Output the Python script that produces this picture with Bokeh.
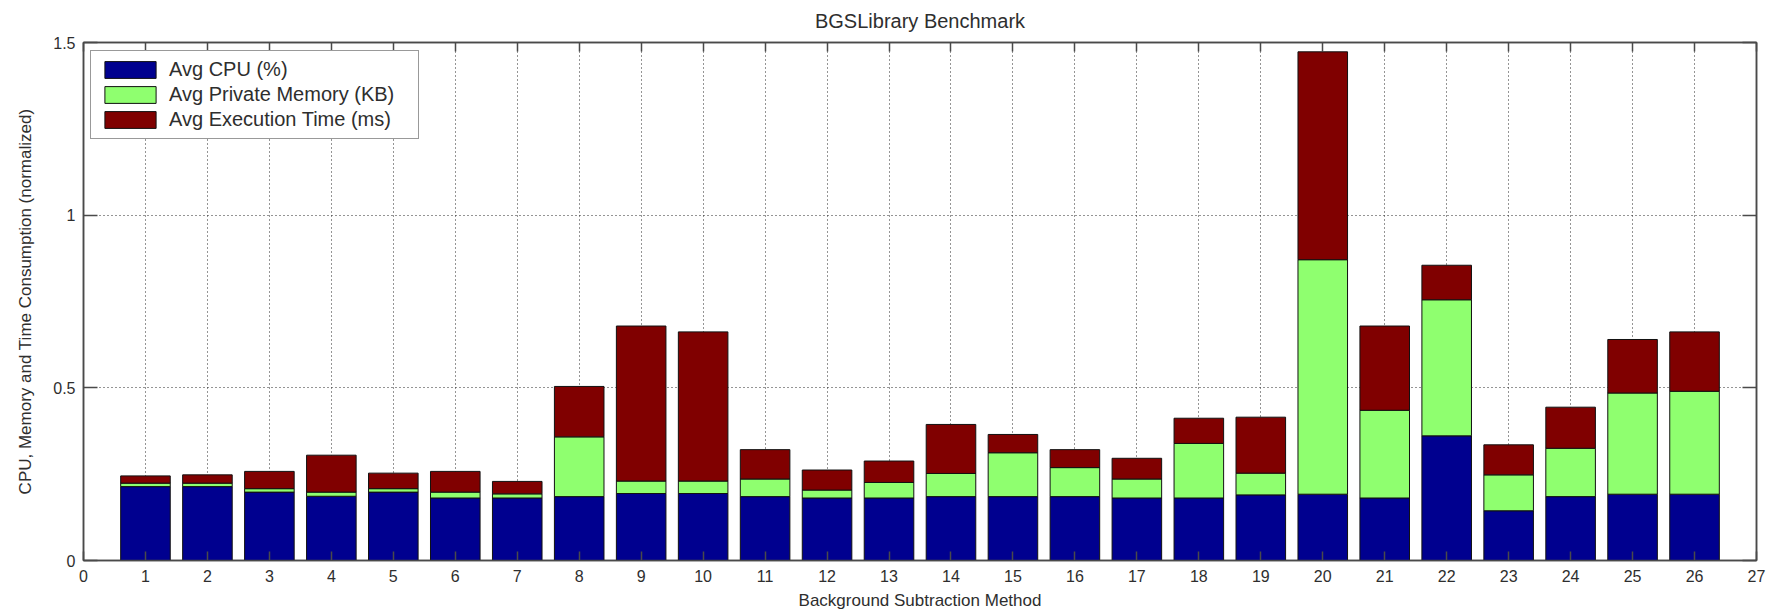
from bokeh.plotting import figure
from bokeh.models import (ColumnDataSource, Range1d, FixedTicker, LinearAxis, Legend,
                          LegendItem, CustomLabelingPolicy)
from bokeh.embed import file_html
from bokeh.resources import INLINE

# ---- data ----
methods = list(range(1, 27))
cpu = [0.214, 0.214, 0.198, 0.186, 0.198, 0.181, 0.181, 0.185, 0.194, 0.194,
       0.185, 0.181, 0.181, 0.185, 0.185, 0.185, 0.181, 0.181, 0.190, 0.192,
       0.181, 0.361, 0.144, 0.185, 0.192, 0.192]
memory = [0.010, 0.010, 0.010, 0.012, 0.010, 0.017, 0.012, 0.173, 0.036, 0.036,
          0.051, 0.023, 0.045, 0.067, 0.127, 0.084, 0.055, 0.158, 0.063, 0.679,
          0.254, 0.394, 0.104, 0.140, 0.293, 0.298]
exec_time = [0.021, 0.024, 0.050, 0.107, 0.045, 0.060, 0.036, 0.146, 0.449, 0.432,
             0.085, 0.058, 0.062, 0.142, 0.053, 0.052, 0.060, 0.073, 0.162, 0.602,
             0.244, 0.100, 0.087, 0.119, 0.155, 0.172]
series_names = ["Avg CPU (%)", "Avg Private Memory (KB)", "Avg Execution Time (ms)"]
series_colors = ["#00008F", "#8FFF6F", "#800000"]
x_ticks = list(range(0, 28))
y_ticks = [0, 0.5, 1, 1.5]
y_tick_labels = ["0", "0.5", "1", "1.5"]

FONT = "Liberation Sans"
TXT = "#2e2e2e"
AX = "#4a4a4a"

source = ColumnDataSource(dict(method=methods, cpu=cpu, mem=memory, time=exec_time))

p = figure(width=1772, height=613, output_backend="svg", toolbar_location=None,
           x_range=Range1d(0, 27), y_range=Range1d(0, 1.5),
           min_border_left=83, min_border_right=16, min_border_top=42, min_border_bottom=53)

p.title.text = "BGSLibrary Benchmark"
p.title.align = "center"
p.title.text_font = FONT
p.title.text_font_size = "20px"
p.title.text_font_style = "normal"
p.title.text_color = TXT
p.title.standoff = 13

renderers = p.vbar_stack(["cpu", "mem", "time"], x="method", width=0.8, source=source,
                         fill_color=series_colors, line_color="#111111", line_width=1)

# grids
p.xgrid.ticker = FixedTicker(ticks=x_ticks)
p.ygrid.ticker = FixedTicker(ticks=y_ticks)
for g in (p.xgrid, p.ygrid):
    g.grid_line_color = "#2a2a2a"
    g.grid_line_dash = "1 3"
    g.grid_line_width = 1

p.outline_line_color = AX
p.outline_line_width = 1.5
p.background_fill_color = "white"
p.border_fill_color = "white"

xa = p.xaxis[0]
xa.ticker = FixedTicker(ticks=x_ticks)
xa.axis_label = "Background Subtraction Method"
ya = p.yaxis[0]
ya.ticker = FixedTicker(ticks=y_ticks)
ya.major_label_overrides = dict(zip(y_ticks, y_tick_labels))
ya.axis_label = "CPU, Memory and Time Consumption (normalized)"

for ax in (xa, ya):
    ax.axis_line_color = AX
    ax.axis_line_width = 1.5
    ax.major_tick_line_color = AX
    ax.major_tick_line_width = 1.5
    ax.major_tick_out = 0
    ax.minor_tick_line_color = None
    ax.major_label_text_font = FONT
    ax.major_label_text_font_size = "16px"
    ax.major_label_text_color = TXT
    ax.axis_label_text_font = FONT
    ax.axis_label_text_font_size = "17px"
    ax.axis_label_text_font_style = "normal"
    ax.axis_label_text_color = TXT
xa.major_tick_in = 9
ya.major_tick_in = 14
xa.major_label_standoff = 9
xa.axis_label_standoff = 6
ya.major_label_standoff = 8
ya.axis_label_standoff = 15

# mirrored axes (top / right) with inward ticks only, no labels drawn
def mirror_axis(ticks, tick_len):
    return LinearAxis(ticker=FixedTicker(ticks=ticks),
                      major_label_policy=CustomLabelingPolicy(code="return []"),
                      major_label_text_font_size="1px",
                      major_label_standoff=0, major_tick_in=tick_len, major_tick_out=0,
                      minor_tick_line_color=None, axis_line_color=AX, axis_line_width=1.5,
                      major_tick_line_color=AX, major_tick_line_width=1.5)

p.add_layout(mirror_axis(x_ticks, 9), "above")
p.add_layout(mirror_axis(y_ticks, 14), "right")

frame_h = 613 - 42 - 53
legend_h = 2 * 7 + 3 * 23 + 2 * 2
legend = Legend(items=[LegendItem(label=n, renderers=[r]) for n, r in zip(series_names, renderers)],
                location=(7, frame_h - 10 - legend_h), padding=7, spacing=2,
                glyph_width=64, glyph_height=21, label_standoff=7,
                label_text_font=FONT, label_text_font_size="20px", label_text_color=TXT,
                label_height=21, label_width=242,
                border_line_color="#333333", border_line_width=1.2,
                background_fill_color="white", background_fill_alpha=1.0)
p.add_layout(legend)

open("out.html", "w").write(file_html(p, INLINE))
